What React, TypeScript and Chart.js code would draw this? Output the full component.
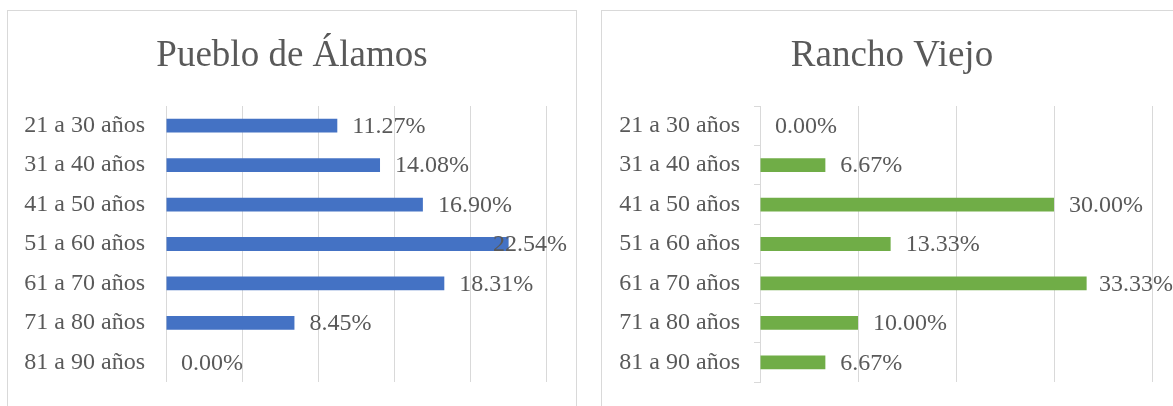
import React, { useEffect, useRef } from "react";
import { Chart, registerables } from "chart.js";

Chart.register(...registerables);

const categories = [
  "21 a 30 años",
  "31 a 40 años",
  "41 a 50 años",
  "51 a 60 años",
  "61 a 70 años",
  "71 a 80 años",
  "81 a 90 años",
];
const puebloTitle = "Pueblo de Álamos";
const puebloValues = [11.27, 14.08, 16.9, 22.54, 18.31, 8.45, 0.0];
const puebloMax = 25;
const puebloStep = 5;

const ranchoTitle = "Rancho Viejo";
const ranchoValues = [0.0, 6.67, 30.0, 13.33, 33.33, 10.0, 6.67];
const ranchoMax = 40;
const ranchoStep = 10;

const FONT = "'Liberation Serif', 'Times New Roman', serif";
const TEXT = "#595959";
const GRID = "#D9D9D9";

const barLabels = {
  id: "barLabels",
  afterDatasetsDraw(chart: any) {
    const ctx = chart.ctx;
    const meta = chart.getDatasetMeta(0);
    const ds = chart.data.datasets[0];
    ctx.save();
    ctx.font = `24px ${FONT}`;
    ctx.fillStyle = TEXT;
    ctx.textBaseline = "middle";
    ctx.textAlign = "left";
    meta.data.forEach((bar: any, i: number) => {
      const text = Number(ds.data[i]).toFixed(2) + "%";
      const w = ctx.measureText(text).width;
      let x = bar.x + 15;
      const maxX = chart.width - 9 - w;
      if (x > maxX) x = maxX;
      ctx.fillText(text, x, bar.y + 1);
    });
    ctx.restore();
  },
};

function BarPanel(props: {
  title: string;
  values: number[];
  color: string;
  max: number;
  step: number;
  width: number;
  axisLine: boolean;
}) {
  const ref = useRef<HTMLCanvasElement | null>(null);
  useEffect(() => {
    if (!ref.current) return;
    const chart = new Chart(ref.current, {
      type: "bar",
      data: {
        labels: categories,
        datasets: [
          {
            data: props.values,
            backgroundColor: props.color,
            barPercentage: 0.35,
            categoryPercentage: 1,
            xAxisID: "x",
            yAxisID: "y",
          },
        ],
      },
      options: {
        indexAxis: "y",
        responsive: false,
        animation: false,
        devicePixelRatio: 1,
        layout: { padding: { left: 0, right: 0, top: 0, bottom: 24 } },
        plugins: {
          legend: { display: false },
          tooltip: { enabled: false },
          title: {
            display: true,
            text: props.title,
            color: TEXT,
            font: { family: FONT, size: 37, weight: "normal" },
            padding: { top: 23.4, bottom: 27.2 },
          },
        },
        scales: {
          x: {
            min: 0,
            max: props.max,
            ticks: { display: false, stepSize: props.step },
            grid: { color: GRID, drawTicks: false, lineWidth: 1 },
            border: { display: false },
          },
          y: {
            type: "category",
            position: "left",
            ticks: {
              color: TEXT,
              font: { family: FONT, size: 24 },
              padding: props.axisLine ? 14 : 21,
            },
            grid: props.axisLine
              ? {
                  display: true,
                  drawOnChartArea: false,
                  drawTicks: true,
                  tickLength: 6,
                  color: GRID,
                  offset: true,
                }
              : { display: false, drawTicks: false },
            border: { display: props.axisLine, color: GRID },
            afterFit: (s: any) => {
              s.width = 158;
              s.paddingTop = 0;
              s.paddingBottom = 0;
            },
          },
          rightSpace: {
            type: "category",
            axis: "y",
            position: "right",
            labels: categories,
            ticks: { display: false },
            grid: { display: false, drawTicks: false },
            border: { display: false },
            afterFit: (s: any) => {
              s.width = 30;
              s.paddingTop = 0;
              s.paddingBottom = 0;
            },
          },
        },
      } as any,
      plugins: [barLabels],
    });
    return () => chart.destroy();
  }, []);
  return (
    <canvas
      ref={ref}
      width={props.width}
      height={395}
      style={{ display: "block", width: props.width, height: 395 }}
    />
  );
}

export default function App() {
  return (
    <div
      style={{
        position: "absolute",
        left: 0,
        top: 0,
        width: 1173,
        height: 406,
        overflow: "hidden",
        background: "#fff",
      }}
    >
      <div
        style={{
          position: "absolute",
          left: 7,
          top: 10,
          width: 570,
          height: 420,
          border: `1px solid ${GRID}`,
          boxSizing: "border-box",
          background: "#fff",
        }}
      >
        <BarPanel
          title={puebloTitle}
          values={puebloValues}
          color="#4472C4"
          max={puebloMax}
          step={puebloStep}
          width={568}
          axisLine={false}
        />
      </div>
      <div
        style={{
          position: "absolute",
          left: 601,
          top: 10,
          width: 582,
          height: 420,
          border: `1px solid ${GRID}`,
          boxSizing: "border-box",
          background: "#fff",
        }}
      >
        <BarPanel
          title={ranchoTitle}
          values={ranchoValues}
          color="#70AD47"
          max={ranchoMax}
          step={ranchoStep}
          width={580}
          axisLine={true}
        />
      </div>
    </div>
  );
}
